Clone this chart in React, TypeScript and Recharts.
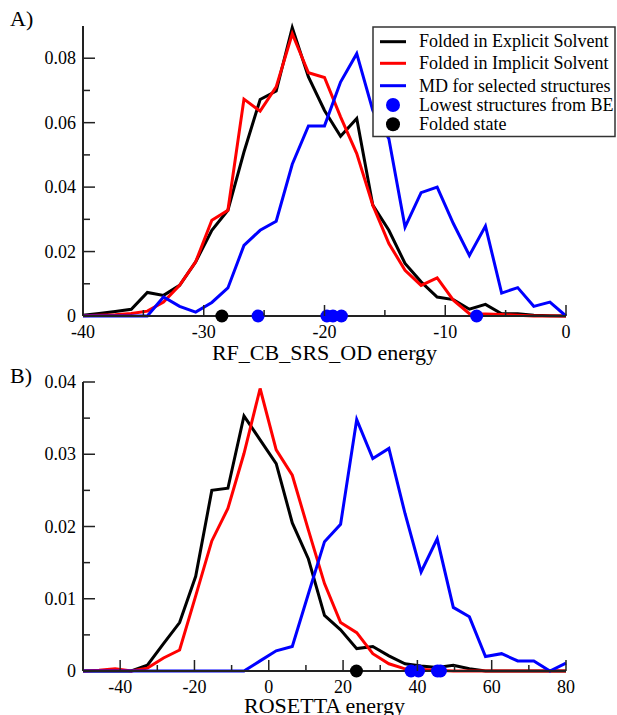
import React from 'react';
import { ComposedChart, Line, Scatter, XAxis, YAxis } from 'recharts';

const FONT = '"Liberation Serif", "Times New Roman", Times, serif';
const AXIS = '#222';

// ---------- Panel A : RF_CB_SRS_OD energy ----------
const energyA = [-40, -38.67, -37.33, -36, -34.67, -33.33, -32, -30.67, -29.33, -28, -26.67, -25.33, -24, -22.67, -21.33, -20, -18.67, -17.33, -16, -14.67, -13.33, -12, -10.67, -9.33, -8, -6.67, -5.33, -4, -2.67, -1.33, 0];
const explicitA = [0.0002, 0.0008, 0.0014, 0.0021, 0.0073, 0.0064, 0.0095, 0.0168, 0.0266, 0.0328, 0.0509, 0.0672, 0.0698, 0.0895, 0.0742, 0.0638, 0.0558, 0.0613, 0.0344, 0.0266, 0.0163, 0.0106, 0.0059, 0.0051, 0.0021, 0.0036, 0.0007, 0.0007, 0.0002, 0.0001, 0];
const implicitA = [0.0001, 0.0002, 0.0004, 0.0008, 0.0015, 0.0043, 0.0095, 0.0168, 0.0297, 0.0328, 0.0673, 0.0636, 0.0711, 0.0876, 0.0755, 0.074, 0.0618, 0.0504, 0.0344, 0.0225, 0.0142, 0.0095, 0.0118, 0.0049, 0.0007, 0.0006, 0.0005, 0.0002, 0, 0, 0];
const mdA = [0, 0, 0, 0, 0, 0.0059, 0.003, 0.0012, 0.0042, 0.0087, 0.0219, 0.0266, 0.0294, 0.0471, 0.059, 0.059, 0.0726, 0.0814, 0.0638, 0.055, 0.0276, 0.0383, 0.04, 0.0287, 0.0188, 0.0279, 0.0071, 0.0088, 0.003, 0.0043, 0];
const lowestA = [-25.5, -19.8, -19.3, -18.6, -7.4];
const foldedA = [-28.5];
const xTicksA = [-40, -35, -30, -25, -20, -15, -10, -5, 0];
const yTicksA = [0, 0.01, 0.02, 0.03, 0.04, 0.05, 0.06, 0.07, 0.08];

// ---------- Panel B : ROSETTA energy ----------
const energyB = [-50, -45.67, -41.33, -37, -32.67, -28.33, -24, -19.67, -15.33, -11, -6.67, -2.33, 2, 6.33, 10.67, 15, 19.33, 23.67, 28, 32.33, 36.67, 41, 45.33, 49.67, 54, 58.33, 62.67, 67, 71.33, 75.67, 80];
const explicitB = [0, 0, 0, 0, 0.0008, 0.0038, 0.0067, 0.0131, 0.025, 0.0253, 0.0353, 0.032, 0.0287, 0.0205, 0.0155, 0.0077, 0.0057, 0.0031, 0.0034, 0.0021, 0.001, 0.0007, 0.0005, 0.0008, 0.0003, 0, 0, 0, 0, 0, 0];
const implicitB = [0, 0.0001, 0.0003, 0, 0.0004, 0.0018, 0.0029, 0.0104, 0.018, 0.0225, 0.0301, 0.0391, 0.0306, 0.0271, 0.0195, 0.0121, 0.0067, 0.0053, 0.0024, 0.001, 0.0003, 0.0002, 0.0001, 0, 0, 0, 0, 0, 0, 0, 0];
const mdB = [0, 0, 0, 0, 0, 0, 0, 0, 0, 0, 0, 0.0014, 0.0028, 0.0034, 0.0107, 0.0179, 0.0203, 0.0348, 0.0294, 0.0308, 0.0218, 0.0137, 0.0183, 0.0088, 0.0075, 0.002, 0.0024, 0.0014, 0.0014, 0, 0.0011];
const lowestB = [38.3, 40.3, 45.4, 46.2];
const foldedB = [23.6];
const xTicksB = [-40, -30, -20, -10, 0, 10, 20, 30, 40, 50, 60, 70, 80];
const yTicksB = [0, 0.005, 0.01, 0.015, 0.02, 0.025, 0.03, 0.035, 0.04];

const legendItems = [
  { label: 'Folded in Explicit Solvent', color: '#000000', kind: 'line' },
  { label: 'Folded in Implicit Solvent', color: '#ff0000', kind: 'line' },
  { label: 'MD for selected structures', color: '#0000ff', kind: 'line' },
  { label: 'Lowest structures from BE', color: '#0000ff', kind: 'dot' },
  { label: 'Folded state', color: '#000000', kind: 'dot' },
];

const isMult = (v: number, step: number) => Math.abs(v / step - Math.round(v / step)) < 1e-6;
const fmt = (v: number) => (v === 0 ? '0' : String(v));

const bottomTick = (step: number) => (props: any) => {
  const { x, y, payload } = props;
  const v = payload.value;
  const major = isMult(v, step);
  return (
    <g>
      <line x1={x} y1={y} x2={x} y2={y - (major ? 11 : 6)} stroke={AXIS} strokeWidth={1.5} />
      {major && (
        <text x={x} y={y + 22} textAnchor="middle" fontSize={18} fontFamily={FONT} fill="#000">
          {fmt(v)}
        </text>
      )}
    </g>
  );
};
const topTick = (step: number) => (props: any) => {
  const { x, y, payload } = props;
  const major = isMult(payload.value, step);
  return <line x1={x} y1={y} x2={x} y2={y + (major ? 11 : 6)} stroke={AXIS} strokeWidth={1.5} />;
};
const leftTick = (step: number) => (props: any) => {
  const { x, y, payload } = props;
  const v = payload.value;
  const major = isMult(v, step);
  return (
    <g>
      <line x1={x} y1={y} x2={x + (major ? 12 : 7)} y2={y} stroke={AXIS} strokeWidth={1.5} />
      {major && (
        <text x={x - 7} y={y + 6} textAnchor="end" fontSize={18} fontFamily={FONT} fill="#000">
          {fmt(v)}
        </text>
      )}
    </g>
  );
};
const rightTick = (step: number) => (props: any) => {
  const { x, y, payload } = props;
  const major = isMult(payload.value, step);
  return <line x1={x} y1={y} x2={x - (major ? 12 : 7)} y2={y} stroke={AXIS} strokeWidth={1.5} />;
};

const dot = (color: string) => (p: any) => <circle cx={p.cx} cy={p.cy} r={6.5} fill={color} />;

type PanelProps = {
  energy: number[];
  explicit: number[];
  implicit: number[];
  md: number[];
  lowest: number[];
  folded: number[];
  xDomain: [number, number];
  yDomain: [number, number];
  xTicks: number[];
  yTicks: number[];
  xStep: number;
  yStep: number;
  title: string;
  height: number;
  xAxisHeight: number;
  labelOffset: number;
};

function Panel(p: PanelProps) {
  const data = p.energy.map((x, i) => ({ x, explicit: p.explicit[i], implicit: p.implicit[i], md: p.md[i] }));
  const lowestData = p.lowest.map((x) => ({ x, y: 0 }));
  const foldedData = p.folded.map((x) => ({ x, y: 0 }));
  const axisLine = { stroke: AXIS, strokeWidth: 2 };
  return (
    <ComposedChart width={617} height={p.height} data={data} margin={{ top: 26, right: 51, bottom: 0, left: 23 }}>
      <XAxis
        dataKey="x"
        type="number"
        domain={p.xDomain}
        ticks={p.xTicks}
        interval={0}
        height={p.xAxisHeight}
        tickSize={0}
        tickMargin={0}
        tickLine={false}
        tick={bottomTick(p.xStep)}
        axisLine={axisLine}
        label={{ value: p.title, position: 'insideBottom', offset: p.labelOffset, fontSize: 22, fontFamily: FONT, fill: '#000' }}
      />
      <XAxis
        xAxisId="top"
        orientation="top"
        dataKey="x"
        type="number"
        domain={p.xDomain}
        allowDataOverflow
        ticks={p.xTicks}
        interval={0}
        height={0}
        tickSize={0}
        tickMargin={0}
        tickLine={false}
        tick={topTick(p.xStep)}
        axisLine={axisLine}
      />
      <YAxis
        type="number"
        domain={p.yDomain}
        ticks={p.yTicks}
        interval={0}
        width={60}
        tickSize={0}
        tickMargin={0}
        tickLine={false}
        tick={leftTick(p.yStep)}
        axisLine={axisLine}
      />
      <YAxis
        yAxisId="right"
        orientation="right"
        type="number"
        domain={p.yDomain}
        allowDataOverflow
        ticks={p.yTicks}
        interval={0}
        width={0}
        tickSize={0}
        tickMargin={0}
        tickLine={false}
        tick={rightTick(p.yStep)}
        axisLine={axisLine}
      />
      <Line type="linear" dataKey="explicit" stroke="#000000" strokeWidth={3} dot={false} isAnimationActive={false} />
      <Line type="linear" dataKey="implicit" stroke="#ff0000" strokeWidth={3} dot={false} isAnimationActive={false} />
      <Line type="linear" dataKey="md" stroke="#0000ff" strokeWidth={3} dot={false} isAnimationActive={false} />
      <Scatter data={lowestData} dataKey="y" shape={dot('#0000ff')} isAnimationActive={false} />
      <Scatter data={foldedData} dataKey="y" shape={dot('#000000')} isAnimationActive={false} />
    </ComposedChart>
  );
}

function LegendBox() {
  const lineY = [14.7, 36.3, 58.7, 78, 97.3];
  const textY = [19.7, 42.3, 65.3, 83.7, 103];
  return (
    <g transform="translate(373,27)">
      <rect x={0} y={0} width={242} height={109.5} fill="#fff" stroke="#333" strokeWidth={1.5} />
      {legendItems.map((it, i) => (
        <g key={it.label}>
          {it.kind === 'line' ? (
            <line x1={7} x2={33} y1={lineY[i]} y2={lineY[i]} stroke={it.color} strokeWidth={3} />
          ) : (
            <circle cx={20} cy={lineY[i]} r={7} fill={it.color} />
          )}
          <text x={46} y={textY[i]} fontSize={18} fontFamily={FONT} fill="#000">
            {it.label}
          </text>
        </g>
      ))}
    </g>
  );
}

export default function App() {
  return (
    <div style={{ position: 'absolute', left: 0, top: 0, width: 617, height: 715, background: '#fff', overflow: 'hidden' }}>
      <div style={{ position: 'absolute', left: 0, top: 0 }}>
        <Panel
          energy={energyA}
          explicit={explicitA}
          implicit={implicitA}
          md={mdA}
          lowest={lowestA}
          folded={foldedA}
          xDomain={[-40, 0]}
          yDomain={[0, 0.09]}
          xTicks={xTicksA}
          yTicks={yTicksA}
          xStep={10}
          yStep={0.02}
          title="RF_CB_SRS_OD energy"
          height={370}
          xAxisHeight={54}
          labelOffset={10}
        />
      </div>
      <div style={{ position: 'absolute', left: 0, top: 356 }}>
        <Panel
          energy={energyB}
          explicit={explicitB}
          implicit={implicitB}
          md={mdB}
          lowest={lowestB}
          folded={foldedB}
          xDomain={[-50, 80]}
          yDomain={[0, 0.04]}
          xTicks={xTicksB}
          yTicks={yTicksB}
          xStep={20}
          yStep={0.01}
          title="ROSETTA energy"
          height={359}
          xAxisHeight={44}
          labelOffset={2}
        />
      </div>
      <svg width={617} height={715} style={{ position: 'absolute', left: 0, top: 0, pointerEvents: 'none' }}>
        <text x={10} y={26} fontSize={22} fontFamily={FONT} fill="#000">A)</text>
        <text x={10} y={383} fontSize={22} fontFamily={FONT} fill="#000">B)</text>
        <LegendBox />
      </svg>
    </div>
  );
}
